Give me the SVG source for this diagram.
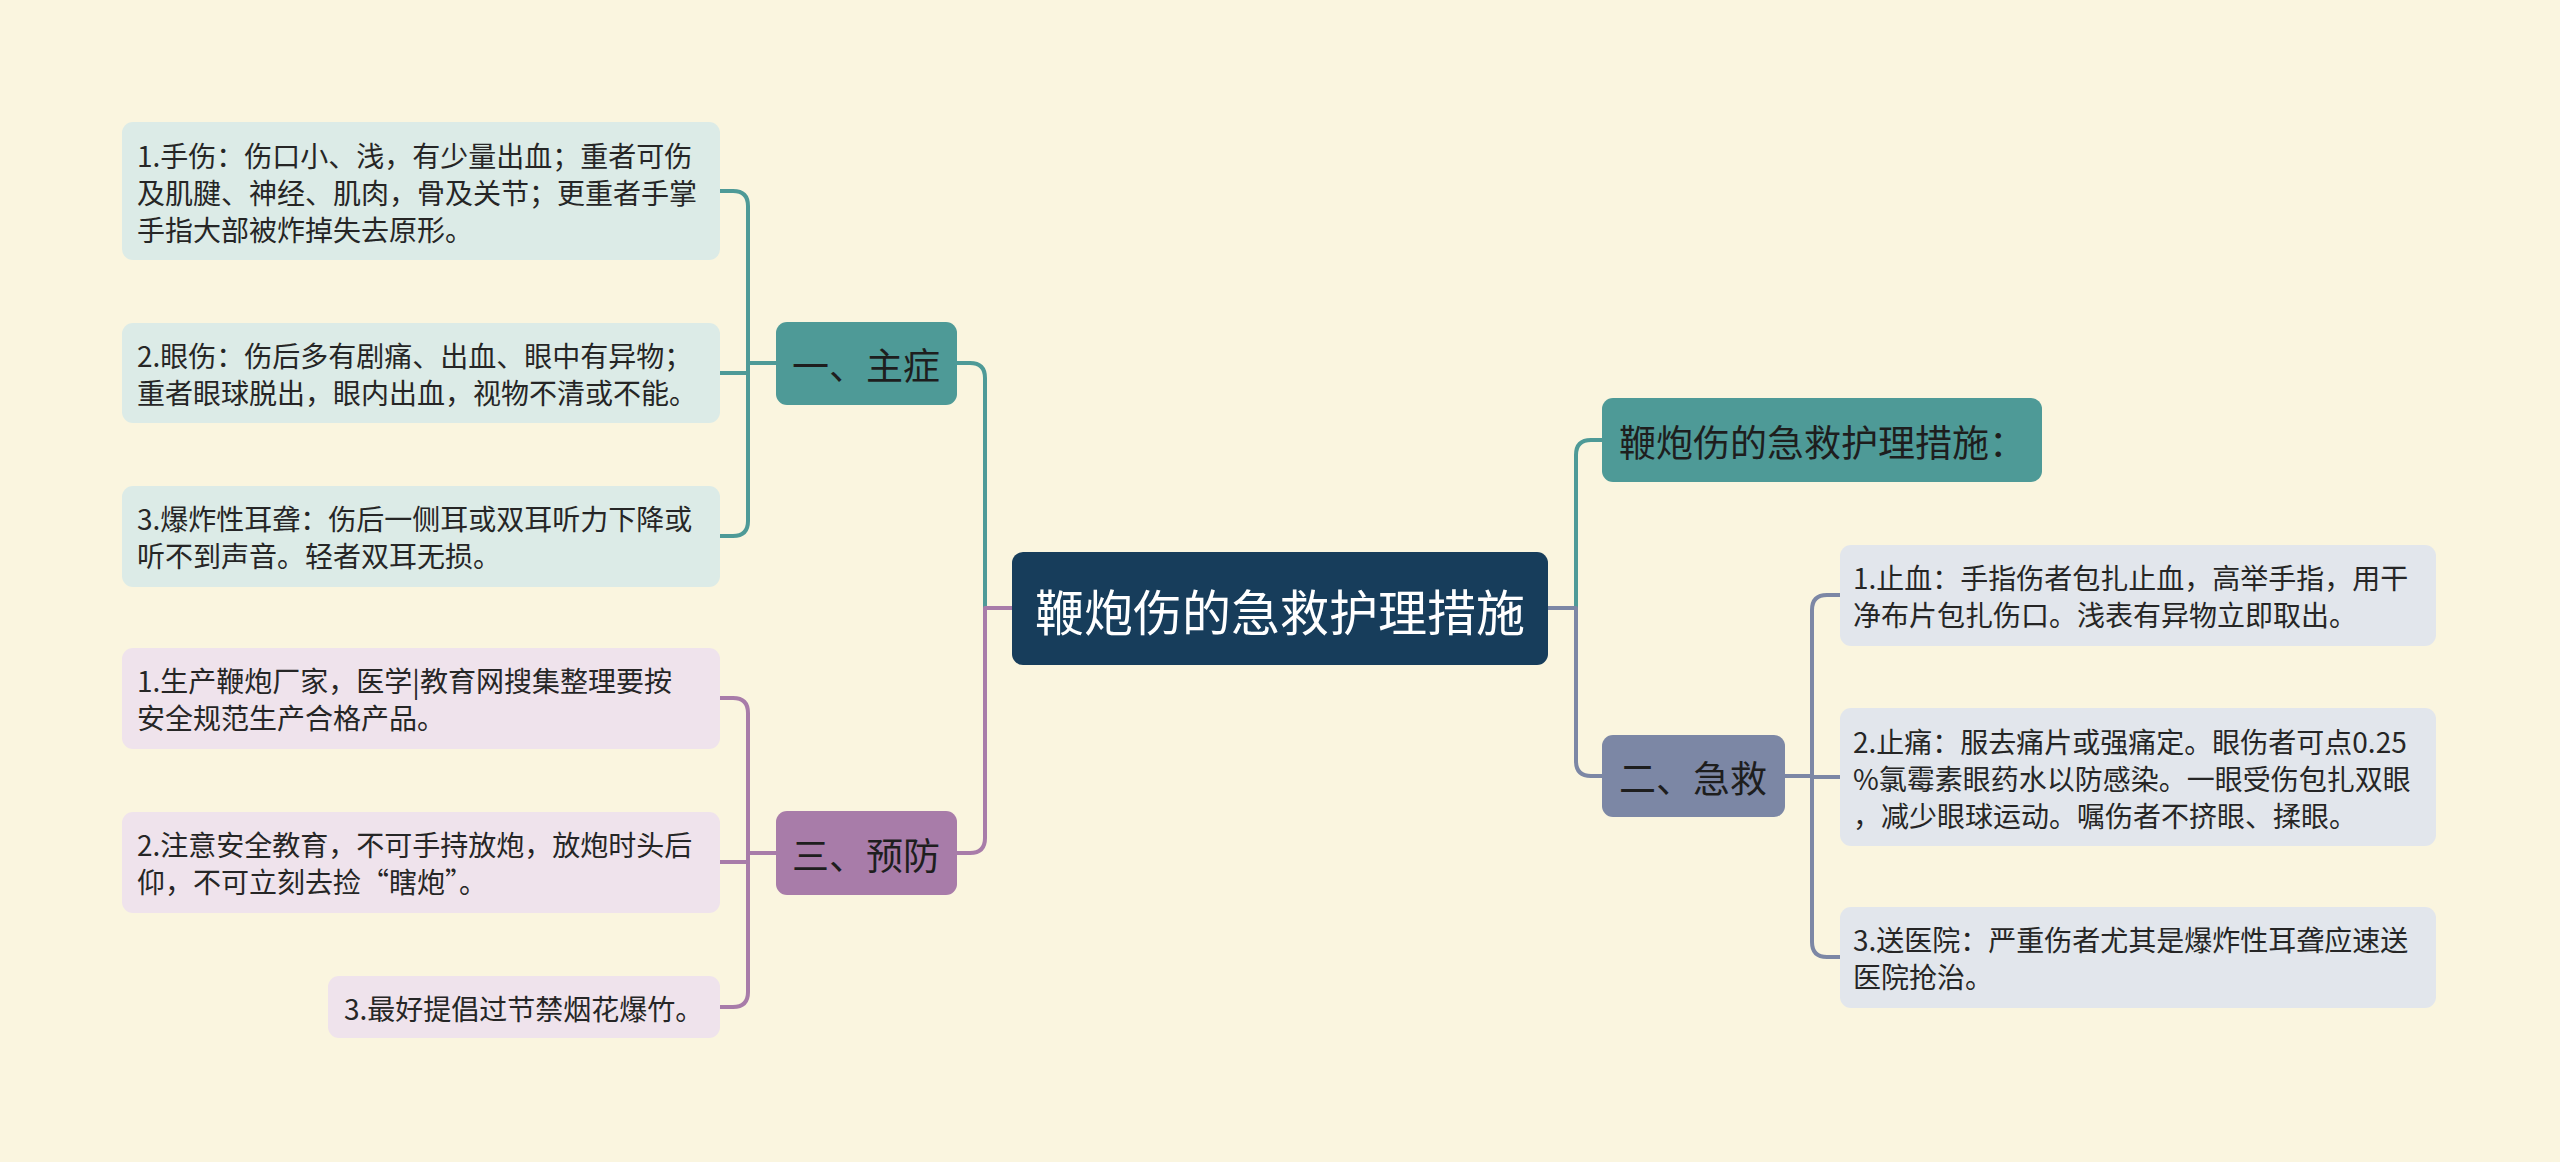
<svg xmlns="http://www.w3.org/2000/svg" width="2560" height="1162" viewBox="0 0 2560 1162">
<style>
text{font-family:"Noto Sans CJK SC","Noto Sans",sans-serif;dominant-baseline:central}
.leaf{font-size:28px;fill:#262626}
.l1{font-size:37px;fill:#1e1e1e;text-anchor:middle}
.root{font-size:49px;fill:#fff;text-anchor:middle}
.c{fill:none;stroke-width:4;stroke-linejoin:round}
.teal{stroke:#4E9A97}.pur{stroke:#A87CA9}.sla{stroke:#7C87A5}
</style>
<rect width="2560" height="1162" fill="#FAF5DF"/>
<g id="connectors">
<path class="c teal" d="M1012,608 H985 V378 Q985,363 970,363 H957"/>
<path class="c pur" d="M1012,608 H985 V838 Q985,853 970,853 H957"/>
<path class="c teal" d="M1548,608 H1576 V455 Q1576,440 1591,440 H1602"/>
<path class="c sla" d="M1548,608 H1576 V761 Q1576,776 1591,776 H1602"/>
<path class="c teal" d="M776,363 H748 V206 Q748,191 733,191 H720"/>
<path class="c teal" d="M776,363 H748 V373 H720"/>
<path class="c teal" d="M776,363 H748 V521 Q748,536 733,536 H720"/>
<path class="c pur" d="M776,853 H748 V713 Q748,698 733,698 H720"/>
<path class="c pur" d="M776,853 H748 V862 H720"/>
<path class="c pur" d="M776,853 H748 V992 Q748,1007 733,1007 H720"/>
<path class="c sla" d="M1785,776 H1812 V610 Q1812,595 1827,595 H1840"/>
<path class="c sla" d="M1785,776 H1812 V777 H1840"/>
<path class="c sla" d="M1785,776 H1812 V942 Q1812,957 1827,957 H1840"/>
</g>
<g id="root">
<rect x="1012" y="552" width="536" height="113" rx="11" fill="#173D5B"/>
<text class="root" x="1280" y="609">鞭炮伤的急救护理措施</text>
</g>
<g id="n-zhuzheng">
<rect x="776" y="322" width="181" height="83" rx="11" fill="#4E9A97"/>
<text class="l1" x="866" y="364">一、主症</text>
</g>
<g id="n-yufang">
<rect x="776" y="811" width="181" height="84" rx="11" fill="#A87CA9"/>
<text class="l1" x="866" y="854">三、预防</text>
</g>
<g id="n-cuoshi">
<rect x="1602" y="398" width="440" height="84" rx="11" fill="#4E9A97"/>
<text class="l1" x="1619" y="441" style="text-anchor:start">鞭炮伤的急救护理措施：</text>
</g>
<g id="n-jijiu">
<rect x="1602" y="735" width="183" height="82" rx="11" fill="#7C87A5"/>
<text class="l1" x="1693" y="777">二、急救</text>
</g>
<g id="leaf-l1">
<rect x="122" y="122" width="598" height="138" rx="11" fill="#DCEBE7"/>
<text class="leaf" x="137" y="155">1.手伤：伤口小、浅，有少量出血；重者可伤</text>
<text class="leaf" x="137" y="192">及肌腱、神经、肌肉，骨及关节；更重者手掌</text>
<text class="leaf" x="137" y="229">手指大部被炸掉失去原形。</text>
</g>
<g id="leaf-l2">
<rect x="122" y="323" width="598" height="100" rx="11" fill="#DCEBE7"/>
<text class="leaf" x="137" y="355">2.眼伤：伤后多有剧痛、出血、眼中有异物；</text>
<text class="leaf" x="137" y="392">重者眼球脱出，眼内出血，视物不清或不能。</text>
</g>
<g id="leaf-l3">
<rect x="122" y="486" width="598" height="101" rx="11" fill="#DCEBE7"/>
<text class="leaf" x="137" y="518">3.爆炸性耳聋：伤后一侧耳或双耳听力下降或</text>
<text class="leaf" x="137" y="555">听不到声音。轻者双耳无损。</text>
</g>
<g id="leaf-p1">
<rect x="122" y="648" width="598" height="101" rx="11" fill="#EFE3EC"/>
<text class="leaf" x="137" y="680">1.生产鞭炮厂家，医学|教育网搜集整理要按</text>
<text class="leaf" x="137" y="717">安全规范生产合格产品。</text>
</g>
<g id="leaf-p2">
<rect x="122" y="812" width="598" height="101" rx="11" fill="#EFE3EC"/>
<text class="leaf" x="137" y="844">2.注意安全教育，不可手持放炮，放炮时头后</text>
<text class="leaf" x="137" y="881">仰，不可立刻去捡“瞎炮”。</text>
</g>
<g id="leaf-p3">
<rect x="328" y="976" width="392" height="62" rx="11" fill="#EFE3EC"/>
<text class="leaf" x="344" y="1008">3.最好提倡过节禁烟花爆竹。</text>
</g>
<g id="leaf-r1">
<rect x="1840" y="545" width="596" height="101" rx="11" fill="#E2E6EC"/>
<text class="leaf" x="1853" y="577">1.止血：手指伤者包扎止血，高举手指，用干</text>
<text class="leaf" x="1853" y="614">净布片包扎伤口。浅表有异物立即取出。</text>
</g>
<g id="leaf-r2">
<rect x="1840" y="708" width="596" height="138" rx="11" fill="#E2E6EC"/>
<text class="leaf" x="1853" y="741">2.止痛：服去痛片或强痛定。眼伤者可点0.25</text>
<text class="leaf" x="1853" y="778">%氯霉素眼药水以防感染。一眼受伤包扎双眼</text>
<text class="leaf" x="1853" y="815">，减少眼球运动。嘱伤者不挤眼、揉眼。</text>
</g>
<g id="leaf-r3">
<rect x="1840" y="907" width="596" height="101" rx="11" fill="#E2E6EC"/>
<text class="leaf" x="1853" y="939">3.送医院：严重伤者尤其是爆炸性耳聋应速送</text>
<text class="leaf" x="1853" y="976">医院抢治。</text>
</g>
</svg>
